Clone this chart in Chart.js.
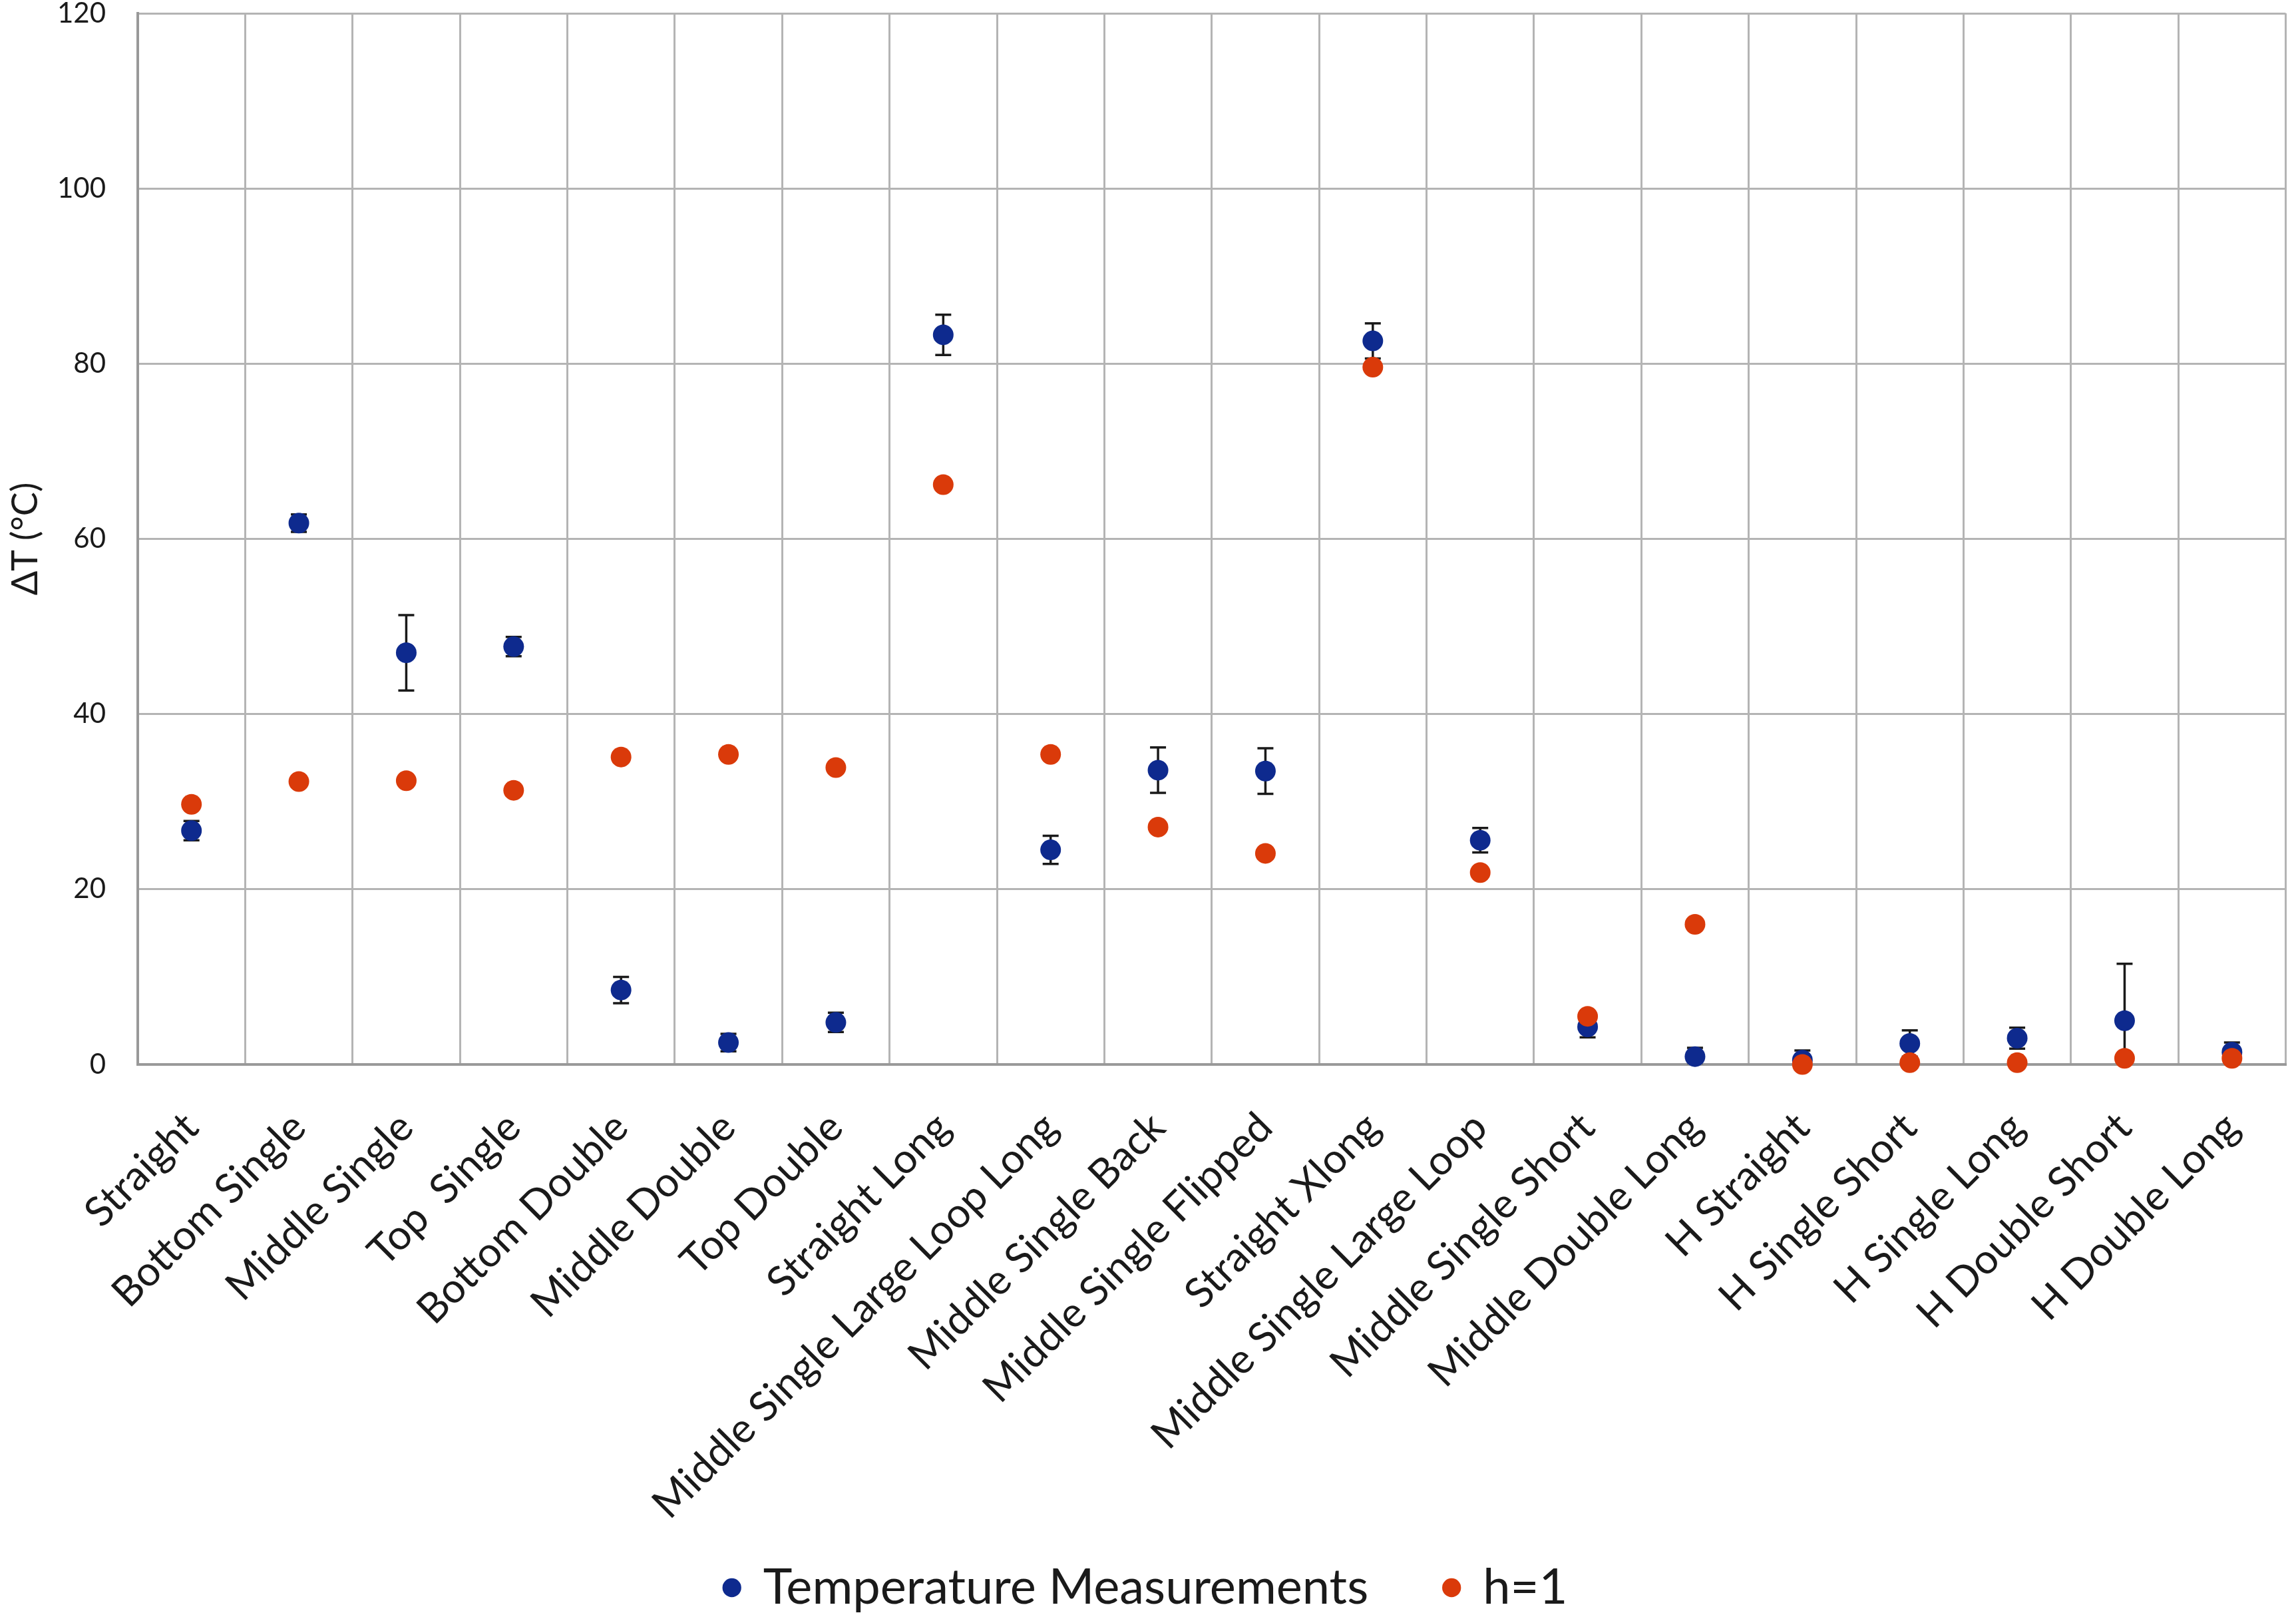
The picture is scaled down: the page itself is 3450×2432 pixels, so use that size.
<!DOCTYPE html>
<html>
<head>
<meta charset="utf-8">
<title>ΔT by configuration</title>
<script src="https://cdn.jsdelivr.net/npm/chart.js@4/dist/chart.umd.min.js"></script>
<style>
  html, body { margin: 0; padding: 0; background: #fff; }
  canvas { display: block; }
</style>
</head>
<body>
<canvas id="chart" width="3450" height="2432"></canvas>
<script>
const categories = [
  "Straight", "Bottom Single", "Middle Single", "Top  Single", "Bottom Double",
  "Middle Double", "Top Double", "Straight Long", "Middle Single Large Loop Long",
  "Middle Single Back", "Middle Single Flipped", "Straight Xlong",
  "Middle Single Large Loop", "Middle Single Short", "Middle Double Long",
  "H Straight", "H Single Short", "H Single Long", "H Double Short", "H Double Long"
];

// measured ΔT with error bars (plus / minus)
const measured = [26.7, 61.8, 47.0, 47.7, 8.5, 2.5, 4.8, 83.3, 24.5, 33.6, 33.5, 82.6, 25.6, 4.3, 0.9, 0.5, 2.4, 3.0, 5.0, 1.4];
const errPlus  = [1.1, 1.0, 4.3, 1.1, 1.5, 1.0, 1.1, 2.3, 1.6, 2.6, 2.6, 2.0, 1.4, 1.2, 1.0, 1.1, 1.5, 1.2, 6.5, 1.1];
const errMinus = [1.1, 1.0, 4.3, 1.1, 1.5, 1.0, 1.1, 2.3, 1.6, 2.6, 2.6, 2.0, 1.4, 1.2, 1.0, 1.1, 1.5, 1.2, 4.5, 1.1];

// model, h=1
const h1 = [29.7, 32.3, 32.4, 31.3, 35.1, 35.4, 33.9, 66.2, 35.4, 27.1, 24.1, 79.6, 21.9, 5.5, 16.0, 0.0, 0.2, 0.2, 0.7, 0.7];

const yTicks = [0, 20, 40, 60, 80, 100, 120];

const blue = "#0e2a8e";
const red = "#da3a0a";
const textColor = "#1a1a1a";
const fontFamily = "Lato, 'Open Sans', sans-serif";

// draw error bars under the markers
const errorBars = {
  id: "errorBars",
  beforeDatasetsDraw(chart) {
    const ctx = chart.ctx;
    const y = chart.scales.y;
    const meta = chart.getDatasetMeta(0);
    const area = chart.chartArea;
    ctx.save();
    ctx.beginPath();
    ctx.rect(area.left, area.top, area.right - area.left, area.bottom - area.top);
    ctx.clip();
    ctx.strokeStyle = "#1a1a1a";
    ctx.lineWidth = 3.5;
    const cap = 12;
    meta.data.forEach((pt, i) => {
      const yt = y.getPixelForValue(measured[i] + errPlus[i]);
      const yb = y.getPixelForValue(measured[i] - errMinus[i]);
      ctx.beginPath();
      ctx.moveTo(pt.x, yt);
      ctx.lineTo(pt.x, yb);
      ctx.moveTo(pt.x - cap, yt);
      ctx.lineTo(pt.x + cap, yt);
      ctx.moveTo(pt.x - cap, yb);
      ctx.lineTo(pt.x + cap, yb);
      ctx.stroke();
    });
    ctx.restore();
  }
};

new Chart(document.getElementById("chart"), {
  type: "line",
  data: {
    labels: categories,
    datasets: [
      {
        label: "Temperature Measurements",
        data: measured,
        showLine: false,
        clip: false,
        backgroundColor: blue,
        borderColor: blue,
        borderWidth: 0,
        pointBackgroundColor: blue,
        pointBorderWidth: 0,
        pointRadius: 15.5,
        order: 1
      },
      {
        label: "h=1",
        data: h1,
        showLine: false,
        clip: false,
        backgroundColor: red,
        borderColor: red,
        borderWidth: 0,
        pointBackgroundColor: red,
        pointBorderWidth: 0,
        pointRadius: 15.5,
        order: 0
      }
    ]
  },
  options: {
    responsive: false,
    animation: false,
    devicePixelRatio: 1,
    layout: { padding: { left: 0, right: 5, top: 1, bottom: 0 } },
    plugins: {
      tooltip: { enabled: false },
      legend: {
        position: "bottom",
        labels: {
          usePointStyle: true,
          pointStyle: "circle",
          boxWidth: 20,
          boxHeight: 20,
          padding: 115,
          color: textColor,
          font: { family: fontFamily, size: 74 },
          sort: (a, b) => a.datasetIndex - b.datasetIndex
        }
      }
    },
    scales: {
      x: {
        offset: true,
        grid: { offset: true, color: "#b4b4b4", lineWidth: 3, drawTicks: false },
        border: { color: "#999999", width: 4 },
        ticks: {
          autoSkip: false,
          maxRotation: 45,
          minRotation: 45,
          padding: 58,
          color: textColor,
          font: { family: fontFamily, size: 62 }
        },
        afterFit(scale) {
          scale.height = 634;
          scale.paddingLeft = 0;
          scale.paddingRight = 0;
          // long rotated labels run a bit into the legend's padding, don't clip them
          scale._computeLabelArea = () => undefined;
        }
      },
      y: {
        min: 0,
        max: 120,
        afterBuildTicks(scale) { scale.ticks = yTicks.map(v => ({ value: v })); },
        grid: { color: "#b4b4b4", lineWidth: 3, drawTicks: false },
        border: { color: "#999999", width: 4 },
        ticks: {
          padding: 48,
          color: textColor,
          font: { family: fontFamily, size: 42, lineHeight: 0.9 }
        },
        title: {
          display: true,
          text: "ΔT (°C)",
          color: textColor,
          font: { family: fontFamily, size: 54 },
          padding: { top: 6, bottom: 0 }
        },
        afterFit(scale) {
          scale.width = 207;
          scale.paddingTop = 20;
          scale.paddingBottom = 20;
        }
      }
    }
  },
  plugins: [errorBars]
});
</script>
</body>
</html>
